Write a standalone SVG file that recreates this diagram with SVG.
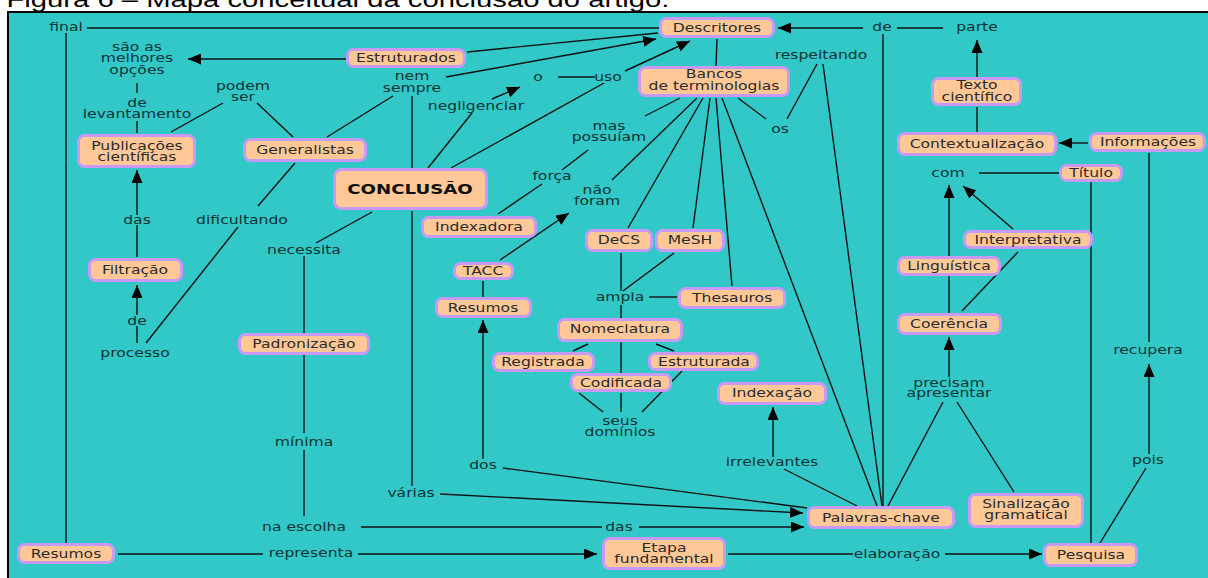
<svg xmlns="http://www.w3.org/2000/svg" width="1208" height="578" viewBox="0 0 1208 578">
  <style>
    text { font-family: "DejaVu Sans", Verdana, sans-serif; font-size: 12px; text-anchor: middle;
           transform-box: fill-box; transform-origin: center; transform: scaleX(1.3); }
    .title { font-family: "Liberation Sans", Arial, sans-serif; font-size: 22.5px; fill: #000; }
    .node rect { fill: #FFC896; stroke: #C99AF5; stroke-width: 3; }
    .node text { fill: #2b2b2b; }
    .node.main text { font-weight: bold; font-size: 14px; fill: #111; }
    .lbl { fill: #0f3434; }
    #connectors line { stroke: #111; stroke-width: 1.4; fill: none; }
    #connectors line.arr { marker-end: url(#head); }
  </style>
  <defs>
    <marker id="head" markerUnits="userSpaceOnUse" markerWidth="13" markerHeight="11" refX="13" refY="5.5" orient="auto">
      <path d="M0,0 L13,5.5 L0,11 Z" fill="#000"/>
    </marker>
  </defs>

  <rect x="0" y="0" width="1208" height="578" fill="#fff"/>
  <text class="title" x="338" y="7">Figura 6 – Mapa conceitual da conclusão do artigo.</text>
  <rect x="8" y="12" width="1210" height="575" fill="#32C8C8" stroke="#000" stroke-width="2"/>

  <!-- connectors -->
  <g id="connectors">
    <line x1="87" y1="28" x2="659" y2="28"/>
    <line x1="66" y1="33" x2="66" y2="543"/>
    <line class="arr" x1="346" y1="59" x2="188" y2="59"/>
    <line x1="467" y1="52" x2="658" y2="33"/>
    <line class="arr" x1="446" y1="77" x2="656" y2="39"/>
    <line class="arr" x1="625" y1="71" x2="690" y2="41"/>
    <line x1="717" y1="39" x2="716" y2="66"/>
    <line class="arr" x1="863" y1="28" x2="778" y2="28"/>
    <line x1="897" y1="28" x2="943" y2="28"/>
    <line x1="883" y1="34" x2="883" y2="506"/>
    <line class="arr" x1="977" y1="77" x2="977" y2="40"/>
    <line x1="977" y1="132" x2="977" y2="107"/>
    <line class="arr" x1="1088" y1="143" x2="1059" y2="143"/>
    <line x1="1149" y1="153" x2="1149" y2="342"/>
    <line x1="1059" y1="173" x2="979" y2="173"/>
    <line x1="1091" y1="182" x2="1091" y2="543"/>
    <line class="arr" x1="949" y1="256" x2="949" y2="185"/>
    <line class="arr" x1="1013" y1="229" x2="963" y2="186"/>
    <line x1="949" y1="313" x2="949" y2="276"/>
    <line x1="962" y1="311" x2="1018" y2="252"/>
    <line class="arr" x1="949" y1="377" x2="949" y2="337"/>
    <line x1="943" y1="402" x2="888" y2="506"/>
    <line x1="957" y1="402" x2="1014" y2="492"/>
    <line class="arr" x1="1149" y1="454" x2="1149" y2="364"/>
    <line x1="1146" y1="468" x2="1100" y2="543"/>
    <line class="arr" x1="945" y1="554" x2="1042" y2="554"/>
    <line x1="728" y1="554" x2="853" y2="554"/>
    <line class="arr" x1="358" y1="554" x2="597" y2="554"/>
    <line x1="118" y1="554" x2="263" y2="554"/>
    <line x1="361" y1="527" x2="602" y2="527"/>
    <line class="arr" x1="639" y1="527" x2="804" y2="527"/>
    <line class="arr" x1="440" y1="494" x2="803" y2="513"/>
    <line x1="503" y1="468" x2="807" y2="508"/>
    <line class="arr" x1="483" y1="459" x2="483" y2="320"/>
    <line x1="483" y1="281" x2="483" y2="297"/>
    <line class="arr" x1="500" y1="260" x2="569" y2="213"/>
    <line x1="697" y1="98" x2="612" y2="180"/>
    <line x1="680" y1="98" x2="645" y2="116"/>
    <line x1="588" y1="150" x2="562" y2="170"/>
    <line x1="542" y1="184" x2="498" y2="214"/>
    <line x1="703" y1="98" x2="628" y2="228"/>
    <line x1="710" y1="98" x2="693" y2="228"/>
    <line x1="716" y1="98" x2="732" y2="286"/>
    <line x1="722" y1="98" x2="877" y2="506"/>
    <line x1="738" y1="98" x2="766" y2="119"/>
    <line x1="787" y1="119" x2="817" y2="64"/>
    <line x1="823" y1="64" x2="882" y2="506"/>
    <line x1="621" y1="253" x2="621" y2="291"/>
    <line x1="674" y1="253" x2="623" y2="291"/>
    <line x1="649" y1="297" x2="677" y2="297"/>
    <line x1="621" y1="305" x2="621" y2="318"/>
    <line x1="621" y1="342" x2="621" y2="373"/>
    <line x1="588" y1="344" x2="573" y2="351"/>
    <line x1="656" y1="344" x2="674" y2="351"/>
    <line x1="579" y1="393" x2="603" y2="412"/>
    <line x1="621" y1="393" x2="621" y2="412"/>
    <line x1="682" y1="371" x2="642" y2="412"/>
    <line class="arr" x1="773" y1="457" x2="773" y2="407"/>
    <line x1="784" y1="469" x2="857" y2="506"/>
    <line x1="412" y1="168" x2="412" y2="96"/>
    <line x1="412" y1="211" x2="412" y2="486"/>
    <line x1="393" y1="96" x2="327" y2="137"/>
    <line x1="428" y1="168" x2="472" y2="113"/>
    <line class="arr" x1="492" y1="99" x2="520" y2="87"/>
    <line x1="558" y1="77" x2="595" y2="77"/>
    <line x1="451" y1="168" x2="604" y2="83"/>
    <line x1="372" y1="212" x2="316" y2="243"/>
    <line x1="304" y1="256" x2="304" y2="333"/>
    <line x1="304" y1="355" x2="304" y2="433"/>
    <line x1="304" y1="450" x2="304" y2="516"/>
    <line x1="295" y1="163" x2="258" y2="206"/>
    <line x1="238" y1="227" x2="146" y2="343"/>
    <line x1="137" y1="343" x2="137" y2="326"/>
    <line class="arr" x1="137" y1="315" x2="137" y2="285"/>
    <line x1="137" y1="257" x2="137" y2="225"/>
    <line class="arr" x1="137" y1="215" x2="137" y2="170"/>
    <line x1="137" y1="133" x2="137" y2="121"/>
    <line x1="137" y1="93" x2="137" y2="83"/>
    <line x1="171" y1="132" x2="223" y2="103"/>
    <line x1="257" y1="103" x2="293" y2="137"/>
  </g>

  <!-- linking phrases -->
  <g id="labels">
    <text class="lbl" x="66" y="31">final</text>
    <text class="lbl" x="137" y="51">são as</text>
    <text class="lbl" x="137" y="62">melhores</text>
    <text class="lbl" x="137" y="74">opções</text>
    <text class="lbl" x="137" y="107">de</text>
    <text class="lbl" x="137" y="118">levantamento</text>
    <text class="lbl" x="243" y="90">podem</text>
    <text class="lbl" x="243" y="101">ser</text>
    <text class="lbl" x="412" y="80">nem</text>
    <text class="lbl" x="412" y="92">sempre</text>
    <text class="lbl" x="476" y="110">negligenciar</text>
    <text class="lbl" x="538" y="81">o</text>
    <text class="lbl" x="608" y="81">uso</text>
    <text class="lbl" x="609" y="130">mas</text>
    <text class="lbl" x="609" y="141">possuíam</text>
    <text class="lbl" x="552" y="180">força</text>
    <text class="lbl" x="597" y="194">não</text>
    <text class="lbl" x="597" y="205">foram</text>
    <text class="lbl" x="821" y="59">respeitando</text>
    <text class="lbl" x="780" y="133">os</text>
    <text class="lbl" x="882" y="31">de</text>
    <text class="lbl" x="977" y="31">parte</text>
    <text class="lbl" x="948" y="177">com</text>
    <text class="lbl" x="1148" y="354">recupera</text>
    <text class="lbl" x="949" y="387">precisam</text>
    <text class="lbl" x="949" y="397">apresentar</text>
    <text class="lbl" x="1148" y="464">pois</text>
    <text class="lbl" x="897" y="558">elaboração</text>
    <text class="lbl" x="772" y="466">irrelevantes</text>
    <text class="lbl" x="620" y="425">seus</text>
    <text class="lbl" x="620" y="436">domínios</text>
    <text class="lbl" x="483" y="469">dos</text>
    <text class="lbl" x="411" y="497">várias</text>
    <text class="lbl" x="304" y="531">na escolha</text>
    <text class="lbl" x="311" y="557">representa</text>
    <text class="lbl" x="619" y="531">das</text>
    <text class="lbl" x="304" y="446">mínima</text>
    <text class="lbl" x="304" y="254">necessita</text>
    <text class="lbl" x="242" y="224">dificultando</text>
    <text class="lbl" x="137" y="224">das</text>
    <text class="lbl" x="137" y="325">de</text>
    <text class="lbl" x="135" y="357">processo</text>
    <text class="lbl" x="620" y="301">ampla</text>
  </g>

  <!-- concepts -->
  <g id="n-descritores" class="node"><rect x="660.5" y="18.5" width="113" height="18" rx="6"/><text x="717" y="32">Descritores</text></g>
  <g id="n-estruturados" class="node"><rect x="347.5" y="49.5" width="117" height="17" rx="6"/><text x="406" y="62">Estruturados</text></g>
  <g id="n-publicacoes" class="node"><rect x="78.5" y="135.5" width="116" height="31" rx="6"/><text x="137" y="150">Publicações</text><text x="137" y="161">científicas</text></g>
  <g id="n-generalistas" class="node"><rect x="244.5" y="139.5" width="121" height="21" rx="6"/><text x="305" y="154">Generalistas</text></g>
  <g id="n-conclusao" class="node main"><rect x="334.5" y="169.5" width="152" height="39" rx="7"/><text x="410" y="194">CONCLUSÃO</text></g>
  <g id="n-bancos" class="node"><rect x="639.5" y="67.5" width="149" height="28" rx="6"/><text x="714" y="78">Bancos</text><text x="714" y="90">de terminologias</text></g>
  <g id="n-indexadora" class="node"><rect x="422.5" y="217.5" width="113" height="19" rx="6"/><text x="479" y="231">Indexadora</text></g>
  <g id="n-tacc" class="node"><rect x="454.5" y="263.5" width="58" height="15" rx="6"/><text x="483" y="275">TACC</text></g>
  <g id="n-resumos-tipo" class="node"><rect x="436.5" y="298.5" width="94" height="18" rx="6"/><text x="483" y="312">Resumos</text></g>
  <g id="n-decs" class="node"><rect x="586.5" y="230.5" width="65" height="20" rx="6"/><text x="619" y="244">DeCS</text></g>
  <g id="n-mesh" class="node"><rect x="656.5" y="230.5" width="67" height="20" rx="6"/><text x="690" y="244">MeSH</text></g>
  <g id="n-thesauros" class="node"><rect x="679.5" y="288.5" width="105" height="19" rx="6"/><text x="732" y="302">Thesauros</text></g>
  <g id="n-nomeclatura" class="node"><rect x="558.5" y="319.5" width="123" height="21" rx="6"/><text x="620" y="333">Nomeclatura</text></g>
  <g id="n-registrada" class="node"><rect x="493.5" y="353.5" width="100" height="17" rx="6"/><text x="543" y="366">Registrada</text></g>
  <g id="n-estruturada" class="node"><rect x="649.5" y="353.5" width="108" height="16" rx="6"/><text x="704" y="366">Estruturada</text></g>
  <g id="n-codificada" class="node"><rect x="571.5" y="374.5" width="99" height="16" rx="6"/><text x="621" y="387">Codificada</text></g>
  <g id="n-indexacao" class="node"><rect x="718.5" y="383.5" width="107" height="20" rx="6"/><text x="772" y="397">Indexação</text></g>
  <g id="n-palavras" class="node"><rect x="808.5" y="507.5" width="145" height="20" rx="6"/><text x="881" y="522">Palavras-chave</text></g>
  <g id="n-etapa" class="node"><rect x="603.5" y="538.5" width="121" height="30" rx="6"/><text x="664" y="552">Etapa</text><text x="664" y="563">fundamental</text></g>
  <g id="n-pesquisa" class="node"><rect x="1044.5" y="544.5" width="92" height="21" rx="6"/><text x="1091" y="559">Pesquisa</text></g>
  <g id="n-sinalizacao" class="node"><rect x="969.5" y="494.5" width="113" height="32" rx="6"/><text x="1026" y="508">Sinalização</text><text x="1026" y="519">gramatical</text></g>
  <g id="n-coerencia" class="node"><rect x="898.5" y="314.5" width="102" height="19" rx="6"/><text x="949" y="328">Coerência</text></g>
  <g id="n-linguistica" class="node"><rect x="898.5" y="257.5" width="101" height="17" rx="6"/><text x="949" y="270">Linguística</text></g>
  <g id="n-interpretativa" class="node"><rect x="964.5" y="231.5" width="127" height="16" rx="6"/><text x="1028" y="244">Interpretativa</text></g>
  <g id="n-titulo" class="node"><rect x="1060.5" y="165.5" width="61" height="15" rx="6"/><text x="1091" y="177">Título</text></g>
  <g id="n-informacoes" class="node"><rect x="1090.5" y="133.5" width="114" height="17" rx="6"/><text x="1148" y="146">Informações</text></g>
  <g id="n-contextualizacao" class="node"><rect x="898.5" y="133.5" width="157" height="21" rx="6"/><text x="977" y="148">Contextualização</text></g>
  <g id="n-texto" class="node"><rect x="932.5" y="78.5" width="88" height="26" rx="6"/><text x="977" y="89">Texto</text><text x="977" y="101">científico</text></g>
  <g id="n-filtracao" class="node"><rect x="89.5" y="259.5" width="92" height="21" rx="6"/><text x="135" y="274">Filtração</text></g>
  <g id="n-padronizacao" class="node"><rect x="239.5" y="334.5" width="129" height="19" rx="6"/><text x="304" y="348">Padronização</text></g>
  <g id="n-resumos" class="node"><rect x="18.5" y="544.5" width="95" height="18" rx="6"/><text x="66" y="558">Resumos</text></g>
</svg>
